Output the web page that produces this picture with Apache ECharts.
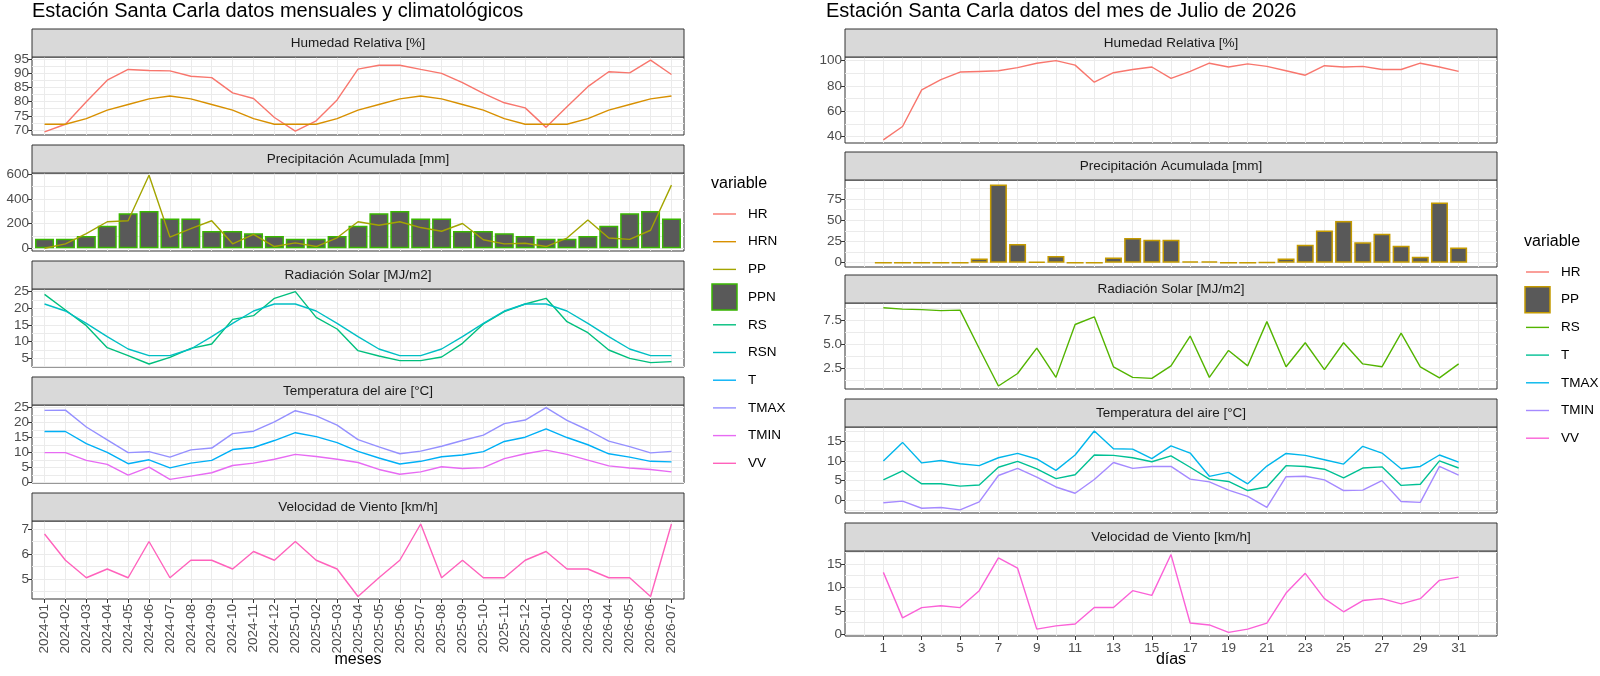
<!DOCTYPE html>
<html>
<head>
<meta charset="utf-8">
<title>Estación Santa Carla</title>
<script src="https://cdn.jsdelivr.net/npm/echarts@6/dist/echarts.min.js"></script>
<style>
  html, body { margin: 0; padding: 0; background: #fff; }
  #main { width: 1600px; height: 676px; }
</style>
</head>
<body>
<div id="main"></div>
<script>
// ---- datos mensuales (2024-01 .. 2026-07) ----
var meses = ['2024-01','2024-02','2024-03','2024-04','2024-05','2024-06','2024-07','2024-08','2024-09','2024-10','2024-11','2024-12',
             '2025-01','2025-02','2025-03','2025-04','2025-05','2025-06','2025-07','2025-08','2025-09','2025-10','2025-11','2025-12',
             '2026-01','2026-02','2026-03','2026-04','2026-05','2026-06','2026-07'];
var HR   = [69.3,72,80,87.6,91.4,91,90.9,89,88.5,83.1,81.1,74.4,69.6,73.2,80.6,91.5,92.9,92.9,91.4,90,86.7,82.9,79.6,77.8,70.9,78.2,85.3,90.6,90.2,94.7,89.6];
var HRN  = [72,72,74,77,79,81,82,81,79,77,74,72,72,72,74,77,79,81,82,81,79,77,74,72,72,72,74,77,79,81,82];
var PP   = [0,36,118,215,223,592,91,160,223,36,113,14,44,14,85,215,187,215,168,138,201,69,36,41,14,83,229,83,72,146,512];
var PPN  = [77,77,99,182,284,303,242,242,140,140,121,99,77,77,99,182,284,303,242,242,140,140,121,99,77,77,99,182,284,303,242];
var RS   = [24.2,19.5,14.8,8.2,5.8,3.3,5.3,8,9.3,16.7,17.8,23,25,17.3,13.8,7.3,5.7,4.3,4.3,5.4,9.5,15.3,19,21.3,23,16,12.7,7.5,5,3.7,4];
var RSN  = [21.3,19.2,15.5,11.5,7.8,5.8,5.8,7.8,11.5,15.5,19.2,21.3,21.3,19.2,15.5,11.5,7.8,5.8,5.8,7.8,11.5,15.5,19.2,21.3,21.3,19.2,15.5,11.5,7.8,5.8,5.8];
var T    = [17,17,13,10.1,6.3,7.6,4.9,6.5,7.4,11,11.7,14,16.6,15.3,13.3,10.4,8.2,6.2,7.1,8.6,9.2,10.3,13.7,15.1,17.9,15,12.6,9.6,8.5,7.1,6.9];
var TMAX = [24,24.1,18.5,14.2,10,10.3,8.5,10.9,11.5,16.3,17.1,20.2,23.9,22.2,19.1,14.3,11.9,9.6,10.5,12.1,14,15.8,19.6,20.8,24.9,20.7,17.5,13.8,12,9.9,10.4];
var TMIN = [10,10,7.4,6.1,2.5,5.2,1.1,2.2,3.3,5.7,6.5,7.8,9.4,8.7,7.8,6.7,4.4,2.8,3.6,5.3,4.7,5,8,9.6,10.8,9.4,7.5,5.6,4.9,4.4,3.6];
var VV   = [6.8,5.75,5.05,5.4,5.05,6.5,5.05,5.75,5.75,5.4,6.1,5.75,6.5,5.75,5.4,4.3,5.05,5.75,7.2,5.05,5.75,5.05,5.05,5.75,6.1,5.4,5.4,5.05,5.05,4.3,7.2];

// ---- datos diarios julio 2026 ----
var dias  = [1,2,3,4,5,6,7,8,9,10,11,12,13,14,15,16,17,18,19,20,21,22,23,24,25,26,27,28,29,30,31];
var HRd   = [37.5,48,77,85,91,91.5,92,94.5,98,100,96.5,83,90.5,93,95,86,91.5,98,95,97.5,95.5,92,88.5,96,95,95.5,93,93,98,95,91.5];
var PPd   = [0,0,0,0,0,5,92,22,1,8,0,0,6,29,27,27,1.5,1.5,0,0,0.5,5,21,38,49,24,34,20,7,71,18];
var RSd   = [8.85,8.7,8.65,8.55,8.6,4.6,0.7,2,4.65,1.6,7.1,7.9,2.7,1.6,1.5,2.8,5.9,1.6,4.4,2.8,7.4,2.7,5.2,2.4,5.2,3,2.7,6.2,2.7,1.55,3];
var Td    = [5.2,7.5,4.2,4.2,3.6,3.9,8.4,9.9,8,5.5,6.5,11.5,11.4,10.8,9.8,11.3,8.4,5.4,4.8,2.5,3.4,8.8,8.6,7.9,5.7,8.2,8.5,3.8,4.1,10,8.2];
var TMAXd = [10,14.7,9.5,10.1,9.3,8.8,10.8,11.9,10.5,7.6,11.5,17.6,13.1,13,10.6,13.8,12,6.1,7.1,4.2,8.7,11.9,11.4,10.3,9.2,13.7,12,8,8.6,11.5,9.7];
var TMINd = [-0.6,-0.2,-2,-1.8,-2.4,-0.4,6.3,8.1,5.9,3.4,1.8,5.3,9.6,8.1,8.6,8.6,5.4,4.7,2.6,1,-1.8,6,6.1,5.2,2.5,2.6,5,-0.3,-0.5,8.6,6.4];
var VVd   = [13.2,3.5,5.7,6.1,5.7,9.3,16.3,14.1,1.1,1.8,2.2,5.7,5.7,9.3,8.3,17,2.4,2,0.4,1.1,2.4,8.8,13,7.6,4.8,7.2,7.6,6.5,7.6,11.5,12.2];

// ---- marcas de los ejes ----
var ticksHR  = [70,75,80,85,90,95];
var ticksPP  = [0,200,400,600];
var ticksRS  = [5,10,15,20,25];
var ticksT   = [0,5,10,15,20,25];
var ticksVV  = [5,6,7];
var ticksHRd = [40,60,80,100];
var ticksPPd = [0,25,50,75];
var ticksRSd = [2.5,5,7.5];
var ticksTd  = [0,5,10,15];
var ticksVVd = [0,5,10,15];
var diasLab  = [1,3,5,7,9,11,13,15,17,19,21,23,25,27,29,31];

var FONT = 'Liberation Sans';
var GRID = '#EBEBEB';
var TXT = '#4D4D4D';

function withMinors(major, min, max) {
  var step = major[1] - major[0], out = [];
  for (var v = major[0] - step / 2; v >= min; v -= step / 2) out.unshift(v);
  for (var w = major[0]; w <= max + 1e-9; w += step / 2) out.push(+w.toFixed(4));
  return out;
}
function range(a, b) { var r = []; for (var i = a; i <= b; i++) r.push(i); return r; }

var facets = [
  // izquierda
  {t:'Humedad Relativa [%]',         l:32,  w:652, top:57,  h:78, min:68.2, max:95.8, ticks:ticksHR},
  {t:'Precipitación Acumulada [mm]', l:32,  w:652, top:173, h:78, min:-22,  max:610,  ticks:ticksPP},
  {t:'Radiación Solar [MJ/m2]',      l:32,  w:652, top:289, h:78, min:2.4,  max:25.8, ticks:ticksRS},
  {t:'Temperatura del aire [°C]',    l:32,  w:652, top:405, h:78, min:-0.1, max:25.8, ticks:ticksT},
  {t:'Velocidad de Viento [km/h]',   l:32,  w:652, top:521, h:78, min:4.2,  max:7.32, ticks:ticksVV},
  // derecha
  {t:'Humedad Relativa [%]',         l:845, w:652, top:57,  h:86, min:35,   max:102.9, ticks:ticksHRd},
  {t:'Precipitación Acumulada [mm]', l:845, w:652, top:180, h:87, min:-5.1, max:97.4,  ticks:ticksPPd},
  {t:'Radiación Solar [MJ/m2]',      l:845, w:652, top:303, h:86, min:0.39, max:9.34,  ticks:ticksRSd, dec:1},
  {t:'Temperatura del aire [°C]',    l:845, w:652, top:427, h:86, min:-3.2, max:18.6,  ticks:ticksTd},
  {t:'Velocidad de Viento [km/h]',   l:845, w:652, top:551, h:85, min:-0.36, max:17.76, ticks:ticksVVd}
];

var grids = [], xAxes = [], yAxes = [], series = [], graphics = [];

facets.forEach(function (f, i) {
  var right = i >= 5, bottom = (i === 4 || i === 9);
  grids.push({left:f.l, top:f.top, width:f.w, height:f.h, show:true, borderColor:'#333', borderWidth:1, backgroundColor:'#fff'});
  var xmin = right ? -1 : -0.6, xmax = right ? 33 : 30.6;
  var xLines = right ? range(0, 32) : range(0, 30);
  xAxes.push({gridIndex:i, type:'value', min:xmin, max:xmax, position:'bottom',
    axisLine:{show:false, onZero:false}, axisTick:{show:false, customValues:xLines}, axisLabel:{show:false},
    splitLine:{show:true, lineStyle:{color:GRID, width:1}}});
  var xTicks = right ? diasLab : range(0, 30);
  xAxes.push({gridIndex:i, type:'value', min:xmin, max:xmax, position:'bottom',
    axisLine:{show:false, onZero:false}, splitLine:{show:false},
    axisTick:{show:bottom, length:4, customValues:xTicks, lineStyle:{color:'#333'}},
    axisLabel:{show:bottom, customValues:xTicks, color:TXT, fontFamily:FONT, fontSize:13.5,
      rotate: right ? 0 : 90, margin:5,
      formatter: function (v) { return right ? String(v) : meses[Math.round(v)]; }}});
  yAxes.push({gridIndex:i, type:'value', min:f.min, max:f.max, position:'left',
    axisLine:{show:false, onZero:false}, axisTick:{show:false, customValues:withMinors(f.ticks, f.min, f.max)}, axisLabel:{show:false},
    splitLine:{show:true, lineStyle:{color:GRID, width:1}}});
  yAxes.push({gridIndex:i, type:'value', min:f.min, max:f.max, position:'left',
    axisLine:{show:false, onZero:false}, splitLine:{show:false},
    axisTick:{show:true, length:4, customValues:f.ticks, lineStyle:{color:'#333'}},
    axisLabel:{customValues:f.ticks, color:TXT, fontFamily:FONT, fontSize:13.5, margin:3,
      formatter: function (v) { return f.dec ? Number(v).toFixed(f.dec) : String(v); }}});
  graphics.push({type:'rect', shape:{x:f.l, y:f.top - 28, width:f.w, height:28},
    style:{fill:'#D9D9D9', stroke:'#333', lineWidth:1}, z:10});
  graphics.push({type:'text', x:f.l + f.w / 2, y:f.top - 14,
    style:{text:f.t, fill:'#1A1A1A', font:'13.5px ' + FONT, align:'center', verticalAlign:'middle'}, z:11});
});

function pairs(xs, ys) { return ys.map(function (v, k) { return [xs[k], v]; }); }
var idx = meses.map(function (m, k) { return k; });

function line(name, gi, xs, ys, color) {
  series.push({name:name, type:'line', xAxisIndex:gi * 2, yAxisIndex:gi * 2, data:pairs(xs, ys),
    symbol:'none', lineStyle:{color:color, width:1.4}, itemStyle:{color:color}, z:3});
}
function bars(name, gi, xs, ys, stroke, w) {
  series.push({name:name, type:'bar', xAxisIndex:gi * 2, yAxisIndex:gi * 2, data:pairs(xs, ys),
    barWidth:w, itemStyle:{color:'#595959', borderColor:stroke, borderWidth:1.5}, z:2});
}

line('HR', 0, idx, HR, '#F8766D');
line('HRN', 0, idx, HRN, '#D89000');
bars('PPN', 1, idx, PPN, '#39B600', 19);
line('PP', 1, idx, PP, '#A3A500');
line('RS', 2, idx, RS, '#00BF7D');
line('RSN', 2, idx, RSN, '#00BFC4');
line('T', 3, idx, T, '#00B0F6');
line('TMAX', 3, idx, TMAX, '#9590FF');
line('TMIN', 3, idx, TMIN, '#E76BF3');
line('VV', 4, idx, VV, '#FF62BC');

line('HR', 5, dias, HRd, '#F8766D');
bars('PP', 6, dias, PPd, '#C49A00', 17);
line('RS', 7, dias, RSd, '#53B400');
line('T', 8, dias, Td, '#00C094');
line('TMAX', 8, dias, TMAXd, '#00B6EB');
line('TMIN', 8, dias, TMINd, '#A58AFF');
line('VV', 9, dias, VVd, '#FB61D7');

graphics.push({type:'text', x:32, y:1, style:{text:'Estación Santa Carla datos mensuales y climatológicos', fill:'#000', font:'20px ' + FONT}});
graphics.push({type:'text', x:826, y:1, style:{text:'Estación Santa Carla datos del mes de Julio de 2026', fill:'#000', font:'20px ' + FONT}});
graphics.push({type:'text', x:358, y:660, style:{text:'meses', fill:'#000', font:'16px ' + FONT, align:'center', verticalAlign:'middle'}});
graphics.push({type:'text', x:1171, y:660, style:{text:'días', fill:'#000', font:'16px ' + FONT, align:'center', verticalAlign:'middle'}});

function legend(x, y, items) {
  graphics.push({type:'text', x:x, y:y, style:{text:'variable', fill:'#000', font:'16px ' + FONT, verticalAlign:'middle'}});
  items.forEach(function (it, k) {
    var cy = y + 30 + k * 27.7;
    if (it.box) {
      graphics.push({type:'rect', shape:{x:x + 1, y:cy - 13, width:25, height:26},
        style:{fill:'#595959', stroke:it.c, lineWidth:1.5}});
    } else {
      graphics.push({type:'line', shape:{x1:x + 2, y1:cy, x2:x + 25, y2:cy}, style:{stroke:it.c, lineWidth:1.4}});
    }
    graphics.push({type:'text', x:x + 37, y:cy, style:{text:it.n, fill:'#000', font:'13.5px ' + FONT, verticalAlign:'middle'}});
  });
}
legend(711, 184, [
  {n:'HR', c:'#F8766D'}, {n:'HRN', c:'#D89000'}, {n:'PP', c:'#A3A500'}, {n:'PPN', c:'#39B600', box:true},
  {n:'RS', c:'#00BF7D'}, {n:'RSN', c:'#00BFC4'}, {n:'T', c:'#00B0F6'}, {n:'TMAX', c:'#9590FF'},
  {n:'TMIN', c:'#E76BF3'}, {n:'VV', c:'#FF62BC'}
]);
legend(1524, 242, [
  {n:'HR', c:'#F8766D'}, {n:'PP', c:'#C49A00', box:true}, {n:'RS', c:'#53B400'}, {n:'T', c:'#00C094'},
  {n:'TMAX', c:'#00B6EB'}, {n:'TMIN', c:'#A58AFF'}, {n:'VV', c:'#FB61D7'}
]);

var chart = echarts.init(document.getElementById('main'));
chart.setOption({
  animation:false,
  textStyle:{fontFamily:FONT},
  grid:grids, xAxis:xAxes, yAxis:yAxes, series:series, graphic:graphics
});
</script>
</body>
</html>
